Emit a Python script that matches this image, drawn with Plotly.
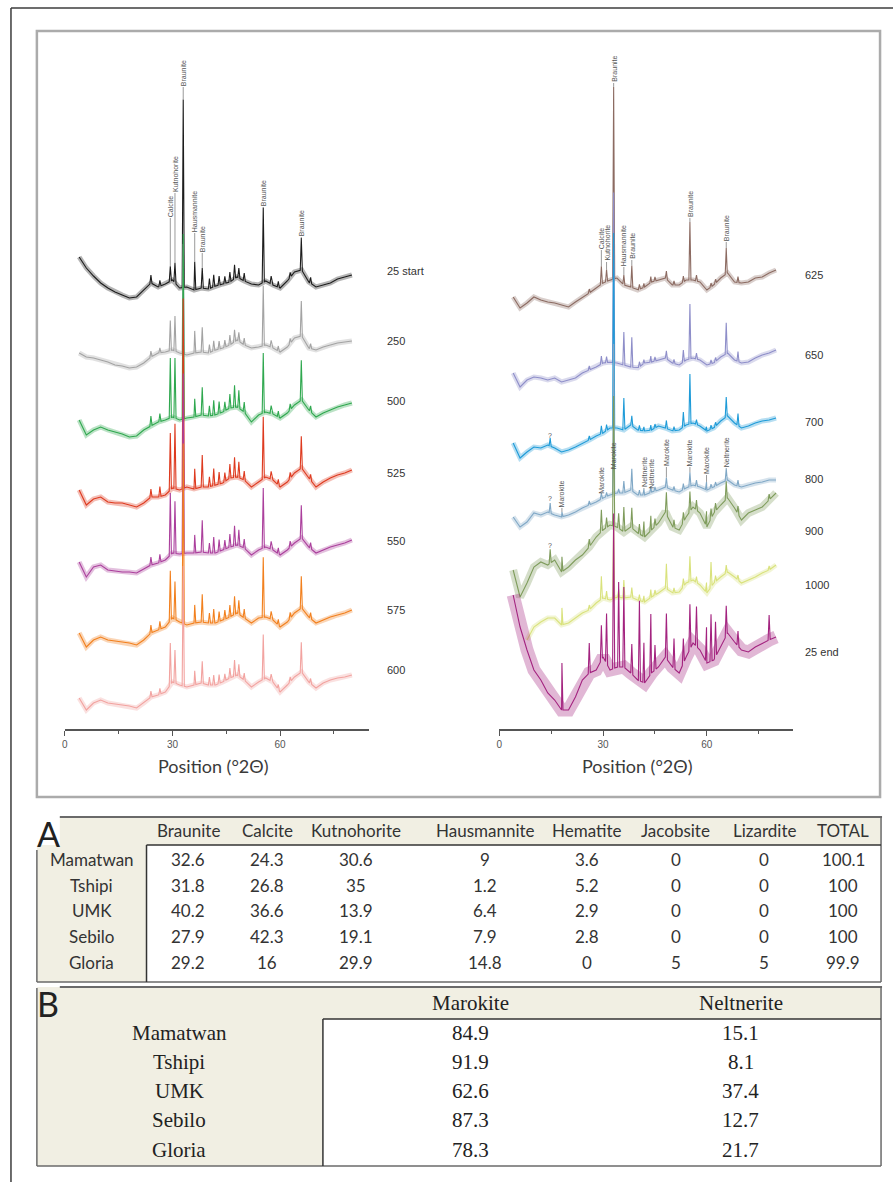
import numpy as np
import plotly.graph_objects as go

W, H = 893, 1182          # figure size in px
AXIS_PX = 729              # pixel row of both x-axis lines
TOP_PX = 39                # top of the spectrum plotting area


def fx(x):
    return x / W


def fy(y):
    return 1 - y / H


# ---------------------------------------------------------------------------
# XRD patterns, left panel: heating series 25 -> 600 °C
# baseline = intensity relative to the pattern's own offset, every 2° from 4° to 80°
# ---------------------------------------------------------------------------
GRID = list(range(4, 81, 2))
GRID_1000 = list(range(8, 81, 2))

LEFT_NAMES = ["25 start", "250", "500", "525", "550", "575", "600"]
LEFT_OFFSETS = [454, 388, 326, 259, 189, 119, 54]

BASE_25_START = [18, 7, -1, -8, -13, -17, -20, -23, -22, -15, -8, -12, -9, -5, -13, -12, -15, -13, -14, -11,
                 -9, -7, -2, -6, -9, -10, -6, -10, -13, -6, 3, 5, -7, -12, -10, -8, -4, -2, 0]
BASE_250 = [-12, -16, -17, -19, -21, -24, -25, -27, -26, -22, -16, -12, -11, -9, -12, -14, -12, -11, -12, -9,
            -7, -4, 1, -4, -7, -6, -4, -7, -11, -6, 3, 5, -7, -9, -6, -4, -2, -1, 0]
BASE_500 = [-17, -32, -27, -24, -27, -29, -31, -34, -33, -27, -23, -19, -17, -14, -17, -15, -14, -12, -13, -12,
            -9, -5, -4, -9, -19, -12, -9, -11, -15, -10, -2, 3, -7, -14, -10, -7, -4, -2, 0]
BASE_525 = [-20, -35, -29, -27, -32, -33, -33, -35, -37, -33, -27, -27, -25, -18, -20, -17, -19, -17, -17, -15,
            -13, -8, -7, -10, -17, -12, -7, -10, -17, -12, -3, 2, -8, -17, -12, -8, -5, -3, 0]
BASE_550 = [-22, -37, -27, -25, -30, -31, -32, -32, -33, -29, -25, -23, -20, -13, -14, -13, -13, -12, -13, -13,
            -10, -7, -5, -8, -15, -10, -7, -10, -15, -10, -3, 2, -7, -13, -10, -7, -5, -3, 0]
BASE_575 = [-23, -37, -30, -27, -30, -31, -32, -33, -35, -30, -23, -20, -17, -8, -12, -15, -13, -12, -13, -13,
            -10, -7, -3, -8, -13, -8, -7, -10, -17, -12, -3, 2, -7, -13, -10, -7, -5, -3, 0]
BASE_600 = [-23, -35, -28, -25, -28, -29, -30, -31, -33, -28, -22, -20, -17, -7, -10, -12, -10, -8, -10, -10,
            -7, -3, 0, -5, -12, -7, -3, -7, -17, -10, -2, 3, -7, -13, -8, -5, -3, -2, 0]

# reflection positions (°2θ) and heights above the local baseline
LEFT_PEAKS = [24.0, 26.5, 29.4, 30.7, 33.0, 36.2, 38.3, 40.3, 41.5, 43.0, 44.6, 46.0, 47.3, 48.5, 50.0,
              55.3, 57.5, 59.5, 62.8, 65.9, 68.5]
PEAKS_25_START = [8, 6, 15, 20, 188, 28, 20, 10, 12, 9, 7, 10, 14, 10, 8, 75, 8, 6, 5, 32, 6]
PEAKS_250 = [6, 5, 30, 35, 110, 22, 25, 8, 10, 8, 7, 10, 12, 9, 7, 60, 7, 5, 5, 35, 5]
PEAKS_500 = [10, 8, 60, 60, 185, 18, 28, 10, 15, 12, 9, 14, 22, 18, 10, 60, 8, 6, 6, 40, 6]
PEAKS_525 = [8, 10, 57, 65, 190, 20, 32, 10, 17, 12, 9, 14, 20, 16, 9, 62, 8, 6, 6, 32, 6]
PEAKS_550 = [8, 8, 62, 52, 180, 18, 32, 10, 16, 12, 9, 13, 20, 16, 9, 60, 8, 6, 6, 33, 6]
PEAKS_575 = [8, 8, 50, 38, 180, 18, 28, 10, 14, 10, 9, 12, 18, 14, 9, 60, 8, 6, 6, 32, 6]
PEAKS_600 = [6, 6, 42, 33, 120, 14, 22, 8, 10, 9, 7, 10, 16, 12, 7, 45, 7, 5, 5, 30, 5]

LEFT_COLORS = ["#1c1c1c", "#a3a3a3", "#2fa84f", "#de3a1f", "#ab3f9c", "#f2801e", "#f2a3a0"]

# ---------------------------------------------------------------------------
# XRD patterns, right panel: 625 -> 1000 °C and cooled sample
# ---------------------------------------------------------------------------
RIGHT_NAMES = ["625", "650", "700", "800", "900", "1000", "25 end"]
RIGHT_OFFSETS = [459, 379, 311, 249, 236, 164, 92]

BASE_625 = [-27, -38, -33, -27, -30, -32, -33, -35, -37, -32, -27, -23, -18, -13, -10, -8, -15, -17, -20, -17,
            -12, -10, -8, -15, -15, -10, -10, -12, -20, -15, -8, -3, -12, -13, -12, -8, -7, -3, 0]
BASE_650 = [-23, -37, -30, -27, -28, -30, -28, -32, -30, -28, -23, -20, -17, -13, -12, -13, -15, -17, -18, -13,
            -12, -10, -8, -13, -15, -10, -8, -10, -15, -13, -7, -3, -10, -13, -12, -8, -5, -3, 0]
BASE_700 = [-25, -40, -34, -29, -30, -27, -30, -34, -32, -29, -25, -22, -18, -15, -10, -10, -12, -7, -12, -13,
            -12, -8, -10, -13, -12, -7, -5, -8, -13, -10, -3, 2, -5, -10, -8, -5, -3, -2, 0]
BASE_800 = [-37, -47, -42, -33, -35, -32, -35, -37, -35, -32, -28, -25, -22, -18, -15, -13, -13, -10, -15, -15,
            -12, -10, -7, -10, -12, -8, -5, -7, -10, -7, -3, 0, -5, -7, -5, -3, -2, 0, 0]
BASE_900 = [-77, -104, -90, -74, -69, -72, -67, -79, -74, -67, -62, -54, -44, -37, -32, -34, -39, -34, -40, -44,
            -37, -30, -19, -34, -37, -24, -14, -20, -34, -20, -12, -5, -15, -27, -20, -17, -14, -7, 0]
BASE_1000 = [-75, -62, -57, -53, -53, -60, -58, -53, -48, -45, -38, -33, -35, -32, -33, -32, -35, -37, -32,
             -28, -23, -28, -27, -18, -15, -20, -28, -18, -12, -7, -12, -18, -15, -12, -8, -5, 0]
BASE_25_END = [42, 10, -13, -33, -43, -56, -63, -73, -73, -60, -43, -36, -33, -20, -33, -30, -30, -36, -43, -46,
               -36, -30, -20, -30, -36, -20, -6, -13, -26, -23, -10, 4, -5, -13, -15, -10, -6, -3, 0]

RIGHT_PEAKS = [14.7, 18.1, 26.0, 29.5, 31.0, 33.05, 34.5, 36.0, 38.3, 40.5, 41.8, 43.8, 45.0, 48.3, 50.5,
               53.2, 55.1, 57.0, 59.9, 61.2, 62.5, 65.6, 69.0, 78.0]
PEAKS_625 = [0, 0, 4, 18, 12, 192, 0, 10, 22, 5, 4, 6, 4, 8, 4, 6, 58, 6, 0, 4, 4, 26, 6, 0]
PEAKS_650 = [0, 0, 4, 8, 6, 170, 0, 33, 30, 5, 4, 6, 4, 8, 4, 12, 55, 6, 0, 4, 4, 31, 10, 0]
PEAKS_700 = [8, 0, 4, 8, 6, 195, 0, 32, 10, 5, 4, 5, 4, 8, 4, 15, 50, 5, 4, 4, 4, 20, 12, 0]
PEAKS_800 = [10, 5, 4, 6, 4, 150, 4, 12, 22, 5, 6, 6, 4, 10, 4, 6, 14, 6, 8, 4, 4, 12, 6, 0]
PEAKS_900 = [14, 15, 8, 22, 10, 130, 15, 25, 20, 10, 15, 15, 8, 22, 8, 10, 20, 10, 15, 10, 8, 18, 8, 6]
PEAKS_1000 = [0, 17, 5, 23, 8, 80, 8, 18, 10, 6, 6, 8, 5, 25, 5, 8, 25, 6, 10, 25, 6, 8, 5, 4]
PEAKS_25_END = [0, 47, 30, 35, 50, 155, 85, 80, 30, 80, 40, 60, 25, 45, 30, 25, 45, 40, 35, 47, 35, 30, 15, 25]

RIGHT_COLORS = ["#8c6b62", "#8e8ec9", "#1e9bd8", "#80a8c6", "#7f9c5c", "#d9e27c", "#a3237f"]

# phase labels: (text, °2θ, pattern index, pixel row of label foot)
LEFT_TAGS = [("Calcite", 29.4, 0, 218), ("Kutnohorite", 30.7, 0, 193), ("Braunite", 33.0, 0, 87),
             ("Hausmannite", 36.2, 0, 233), ("Braunite", 38.3, 0, 253), ("Braunite", 55.3, 0, 207),
             ("Braunite", 65.9, 0, 237)]
RIGHT_TAGS = [("Calcite", 29.5, 0, 250), ("Kutnohorite", 31.0, 0, 262), ("Braunite", 33.05, 0, 83),
              ("Hausmannite", 36.0, 0, 267), ("Braunite", 38.3, 0, 260), ("Braunite", 55.1, 0, 218),
              ("Braunite", 65.6, 0, 242),
              ("?", 14.7, 2, 440),
              ("?", 14.7, 3, 503), ("Marokite", 18.1, 3, 508), ("Marokite", 29.5, 3, 495),
              ("Marokite", 33.05, 3, 470), ("Neltnerite", 41.8, 3, 488), ("Neltnerite", 43.8, 3, 490),
              ("Marokite", 48.3, 3, 467), ("Marokite", 55.1, 3, 467), ("Marokite", 59.9, 3, 475),
              ("Neltnerite", 65.6, 3, 468),
              ("?", 14.7, 4, 550)]

# ---------------------------------------------------------------------------
# Table A: bulk mineralogy (wt %)   Table B: Mn-oxide split after roasting (%)
# ---------------------------------------------------------------------------
SITES = ["Mamatwan", "Tshipi", "UMK", "Sebilo", "Gloria"]
PHASES_A = ["Braunite", "Calcite", "Kutnohorite", "Hausmannite", "Hematite", "Jacobsite", "Lizardite", "TOTAL"]
BRAUNITE = [32.6, 31.8, 40.2, 27.9, 29.2]
CALCITE = [24.3, 26.8, 36.6, 42.3, 16]
KUTNOHORITE = [30.6, 35, 13.9, 19.1, 29.9]
HAUSMANNITE = [9, 1.2, 6.4, 7.9, 14.8]
HEMATITE = [3.6, 5.2, 2.9, 2.8, 0]
JACOBSITE = [0, 0, 0, 0, 5]
LIZARDITE = [0, 0, 0, 0, 5]
TOTAL = [100.1, 100, 100, 100, 99.9]

PHASES_B = ["Marokite", "Neltnerite"]
MAROKITE = [84.9, 91.9, 62.6, 87.3, 78.3]
NELTNERITE = [15.1, 8.1, 37.4, 12.7, 21.7]


def pattern(grid, base, offset, peaks, heights, half_width=0.3):
    """Baseline polyline with narrow reflections inserted at the peak positions."""
    gx = np.asarray(grid, float)
    gy = np.asarray(base, float) + offset
    xs = list(gx)
    for p, h in zip(peaks, heights):
        if h > 0 and gx[0] < p < gx[-1]:
            xs += [p - half_width, p, p + half_width]
    xs = np.unique(np.round(np.asarray(xs), 4))
    ys = np.interp(xs, gx, gy)
    for p, h in zip(peaks, heights):
        if h > 0 and gx[0] < p < gx[-1]:
            ys[np.isclose(xs, p)] += h
    return xs, ys


fig = go.Figure()

left_sets = [
    (GRID, BASE_25_START, PEAKS_25_START), (GRID, BASE_250, PEAKS_250), (GRID, BASE_500, PEAKS_500),
    (GRID, BASE_525, PEAKS_525), (GRID, BASE_550, PEAKS_550), (GRID, BASE_575, PEAKS_575),
    (GRID, BASE_600, PEAKS_600),
]
right_sets = [
    (GRID, BASE_625, PEAKS_625), (GRID, BASE_650, PEAKS_650), (GRID, BASE_700, PEAKS_700),
    (GRID, BASE_800, PEAKS_800), (GRID, BASE_900, PEAKS_900), (GRID_1000, BASE_1000, PEAKS_1000),
    (GRID, BASE_25_END, PEAKS_25_END),
]
LEFT_BAND = [5] * 7
RIGHT_BAND = [5, 5, 5, 5, 8, 5, 13]


def draw(sets, offsets, colors, bands, peaks, xa, ya):
    curves = []
    for (g, b, pk), off, col, band in zip(sets, offsets, colors, bands):
        # soft noise band along the baseline
        fig.add_trace(go.Scatter(x=g, y=[v + off for v in b], mode="lines",
                                 line=dict(color=col, width=band), opacity=0.32,
                                 xaxis=xa, yaxis=ya, hoverinfo="skip"))
        xs, ys = pattern(g, b, off, peaks, pk)
        curves.append((xs, ys))
        fig.add_trace(go.Scatter(x=xs, y=ys, mode="lines", line=dict(color=col, width=1.1),
                                 xaxis=xa, yaxis=ya))
    return curves


left_curves = draw(left_sets, LEFT_OFFSETS, LEFT_COLORS, LEFT_BAND, LEFT_PEAKS, "x", "y")
right_curves = draw(right_sets, RIGHT_OFFSETS, RIGHT_COLORS, RIGHT_BAND, RIGHT_PEAKS, "x2", "y2")

shapes, annotations = [], []


def add_tags(tags, curves, xref, yref):
    for text, pos, idx, foot_px in tags:
        xs, ys = curves[idx]
        top = float(np.interp(pos, xs, ys))
        foot = AXIS_PX - foot_px
        if foot > top:
            shapes.append(dict(type="line", xref=xref, yref=yref, x0=pos, x1=pos, y0=top, y1=foot,
                               line=dict(color="#808080", width=0.8)))
        annotations.append(dict(xref=xref, yref=yref, x=pos, y=foot, text=text, showarrow=False,
                                textangle=0 if text == "?" else -90, xanchor="center", yanchor="bottom",
                                borderpad=0, font=dict(family="Liberation Sans", size=7, color="#555")))


add_tags(LEFT_TAGS, left_curves, "x", "y")
add_tags(RIGHT_TAGS, right_curves, "x2", "y2")

# pattern names at the right end of each trace
LEFT_NAME_PX = (383, [271, 341, 401, 473, 541, 610, 670])
RIGHT_NAME_PX = (803, [275, 355, 422, 479, 531, 585, 652])
for names, (x0, rows) in ((LEFT_NAMES, LEFT_NAME_PX), (RIGHT_NAMES, RIGHT_NAME_PX)):
    for name, r in zip(names, rows):
        annotations.append(dict(xref="paper", yref="paper", x=fx(x0), y=fy(r), text=name, showarrow=False,
                                xanchor="left", yanchor="middle",
                                font=dict(family="Liberation Sans", size=11, color="#333")))

# axis titles
for cx in (211, 637):
    annotations.append(dict(xref="paper", yref="paper", x=fx(cx), y=fy(766), text="Position (°2Θ)",
                            showarrow=False, xanchor="center", yanchor="middle",
                            font=dict(family="Lato", size=18, color="#3a3a3a")))


def line(x0, y0, x1, y1, color="#555", width=1.5):
    shapes.append(dict(type="line", xref="paper", yref="paper", x0=fx(x0), y0=fy(y0), x1=fx(x1), y1=fy(y1),
                       line=dict(color=color, width=width)))


def rect(x0, y0, x1, y1, fill, color=None, width=0):
    shapes.append(dict(type="rect", xref="paper", yref="paper", x0=fx(x0), y0=fy(y0), x1=fx(x1), y1=fy(y1),
                       fillcolor=fill, line=dict(color=color or fill, width=width), layer="below"))


# outer frame and spectra panel
line(8, 8, 893, 8, "#3c3c3c", 1.5)
line(8, 8, 8, 1182, "#3c3c3c", 1.5)
shapes.append(dict(type="rect", xref="paper", yref="paper", x0=fx(34), y0=fy(31), x1=fx(880), y1=fy(797),
                   line=dict(color="#ababab", width=2.5)))

BEIGE = "#f1efe3"

# ---- table A ----
rect(57, 817, 881, 845, BEIGE)
rect(34, 845, 144, 982, BEIGE)
rect(144, 845, 881, 982, "white")
line(57, 817, 882, 817, "#6a6a6a", 2)
line(881, 817, 881, 982, "#6a6a6a", 1.5)
line(34, 982, 881, 982, "#6a6a6a", 1.5)
line(34, 850, 34, 982, "#6a6a6a", 1.5)
line(144, 845, 881, 845, "#333", 1.5)
line(144, 845, 144, 982, "#333", 1.5)
annotations.append(dict(xref="paper", yref="paper", x=fx(32), y=fy(833), text="A", showarrow=False,
                        xanchor="left", yanchor="middle", font=dict(family="Lato", size=34, color="#222")))

A_COLS = [186, 265, 354, 484, 586, 675, 764, 843]
A_ROWS = [859, 885, 910, 936, 962]
A_VALUES = [BRAUNITE, CALCITE, KUTNOHORITE, HAUSMANNITE, HEMATITE, JACOBSITE, LIZARDITE, TOTAL]
fontA = dict(family="Lato", size=17, color="#333")
for head, cx, vals in zip(PHASES_A, A_COLS, A_VALUES):
    annotations.append(dict(xref="paper", yref="paper", x=fx(cx), y=fy(830), text=head, showarrow=False,
                            xanchor="center", yanchor="middle", font=fontA))
    for v, r in zip(vals, A_ROWS):
        annotations.append(dict(xref="paper", yref="paper", x=fx(cx), y=fy(r), text=f"{v:g}", showarrow=False,
                                xanchor="center", yanchor="middle", font=fontA))
for site, r in zip(SITES, A_ROWS):
    annotations.append(dict(xref="paper", yref="paper", x=fx(89), y=fy(r), text=site, showarrow=False,
                            xanchor="center", yanchor="middle", font=fontA))

# ---- table B ----
rect(34, 987, 881, 1019, BEIGE)
rect(34, 1019, 321, 1166, BEIGE)
rect(321, 1019, 881, 1166, "white")
line(57, 987, 882, 987, "#6a6a6a", 2)
line(881, 987, 881, 1166, "#6a6a6a", 1.5)
line(34, 1166, 881, 1166, "#6a6a6a", 1.5)
line(34, 988, 34, 1166, "#6a6a6a", 1.5)
line(321, 1019, 881, 1019, "#333", 1.5)
line(321, 1019, 321, 1166, "#333", 1.5)
annotations.append(dict(xref="paper", yref="paper", x=fx(32), y=fy(1003), text="B", showarrow=False,
                        xanchor="left", yanchor="middle", font=dict(family="Lato", size=34, color="#222")))

B_COLS = [469, 740]
B_ROWS = [1033, 1062, 1091, 1120, 1150]
fontB = dict(family="Liberation Serif", size=21, color="#222")
for head, cx, vals in zip(PHASES_B, B_COLS, [MAROKITE, NELTNERITE]):
    annotations.append(dict(xref="paper", yref="paper", x=fx(cx), y=fy(1003), text=head, showarrow=False,
                            xanchor="center", yanchor="middle", font=fontB))
    for v, r in zip(vals, B_ROWS):
        annotations.append(dict(xref="paper", yref="paper", x=fx(cx), y=fy(r), text=f"{v:g}", showarrow=False,
                                xanchor="center", yanchor="middle", font=fontB))
for site, r in zip(SITES, B_ROWS):
    annotations.append(dict(xref="paper", yref="paper", x=fx(177), y=fy(r), text=site, showarrow=False,
                            xanchor="center", yanchor="middle", font=fontB))

y_dom = [fy(AXIS_PX), fy(TOP_PX)]
xaxis_style = dict(showgrid=False, zeroline=False, showline=True, linecolor="#555", linewidth=1.5,
                   ticks="outside", ticklen=5, tickwidth=1.2, tickcolor="#555", tickvals=[0, 30, 60],
                   tickfont=dict(family="Liberation Sans", size=10, color="#555"),
                   minor=dict(tickvals=[15, 45, 75], ticks="outside", ticklen=3, tickcolor="#555"),
                   fixedrange=True)
yaxis_style = dict(visible=False, range=[0, AXIS_PX - TOP_PX], fixedrange=True)

fig.update_layout(
    width=W, height=H, margin=dict(l=0, r=0, t=0, b=0),
    paper_bgcolor="white", plot_bgcolor="rgba(0,0,0,0)", showlegend=False,
    xaxis=dict(domain=[fx(62), fx(367)], range=[0, 84.7], anchor="y", **xaxis_style),
    yaxis=dict(domain=y_dom, anchor="x", **yaxis_style),
    xaxis2=dict(domain=[fx(498), fx(793)], range=[0, 85], anchor="y2", **xaxis_style),
    yaxis2=dict(domain=y_dom, anchor="x2", **yaxis_style),
    shapes=shapes, annotations=annotations,
)

fig.write_html("out.html")
